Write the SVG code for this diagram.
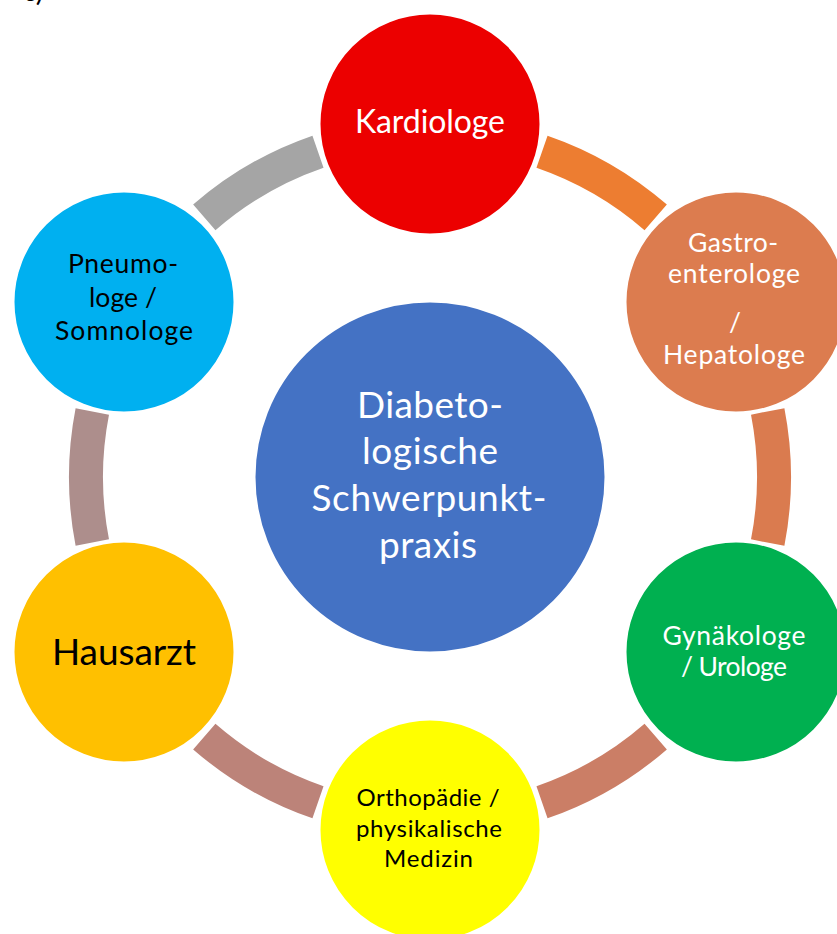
<svg xmlns="http://www.w3.org/2000/svg" width="837" height="934" viewBox="0 0 837 934">
<style>
.band{fill:none;stroke-width:34;stroke-linecap:butt}
.node{stroke:#FFFFFF;stroke-width:3}
text{font-family:Lato,"Open Sans","Liberation Sans",sans-serif;text-anchor:middle}
.w{fill:#FFFFFF}
.b{fill:#000000}
</style>
<rect width="837" height="934" fill="#FFFFFF"/>
<text x="33" y="1" style="font-size:28px" class="b">c)</text>
<g id="connectors">
<path class="band" stroke="#ED7D31" d="M542,151.7 A344,344 0 0 1 655.7,217.4"/>
<path class="band" stroke="#DA7B4F" d="M767.7,411.4 A344,344 0 0 1 767.7,542.6"/>
<path class="band" stroke="#CB7E66" d="M655.7,736.6 A344,344 0 0 1 542,802.3"/>
<path class="band" stroke="#BC8379" d="M318,802.3 A344,344 0 0 1 204.3,736.6"/>
<path class="band" stroke="#AD8E8C" d="M92.3,542.6 A344,344 0 0 1 92.3,411.4"/>
<path class="band" stroke="#A5A5A5" d="M204.3,217.4 A344,344 0 0 1 318,151.7"/>
</g>
<g id="center">
<circle class="node" cx="430" cy="477" r="176" fill="#4472C4"/>
<text class="w" style="font-size:37px" x="430" y="418" textLength="146">Diabeto-</text>
<text class="w" style="font-size:37px" x="430" y="464" textLength="136">logische</text>
<text class="w" style="font-size:37px" x="429" y="511" textLength="235">Schwerpunkt-</text>
<text class="w" style="font-size:37px" x="428" y="558" textLength="98">praxis</text>
</g>
<g id="kardiologe">
<circle class="node" cx="430" cy="124" r="111" fill="#EC0000"/>
<text class="w" style="font-size:32px" x="430" y="133" textLength="150">Kardiologe</text>
</g>
<g id="gastroenterologe">
<circle class="node" cx="736" cy="302" r="111" fill="#DC7C4F"/>
<text class="w" style="font-size:26.5px" x="733" y="252" textLength="90">Gastro-</text>
<text class="w" style="font-size:26.5px" x="734" y="283" textLength="132">enterologe</text>
<text class="w" style="font-size:26.5px" x="735" y="332">/</text>
<text class="w" style="font-size:26.5px" x="734" y="364" textLength="142">Hepatologe</text>
</g>
<g id="gynaekologe">
<circle class="node" cx="736" cy="652" r="111" fill="#00B050"/>
<text class="w" style="font-size:26.5px" x="734" y="645" textLength="143">Gynäkologe</text>
<text class="w" style="font-size:26.5px" x="734" y="676" textLength="106">/ Urologe</text>
</g>
<g id="orthopaedie">
<circle class="node" cx="430" cy="830" r="111" fill="#FFFF00"/>
<text class="b" style="font-size:24px" x="428" y="806" textLength="143">Orthopädie /</text>
<text class="b" style="font-size:24px" x="429" y="837" textLength="146">physikalische</text>
<text class="b" style="font-size:24px" x="428.5" y="867" textLength="89">Medizin</text>
</g>
<g id="hausarzt">
<circle class="node" cx="124" cy="652" r="111" fill="#FFC000"/>
<text class="b" style="font-size:37px" x="124" y="665" textLength="144">Hausarzt</text>
</g>
<g id="pneumologe">
<circle class="node" cx="124" cy="302" r="111" fill="#00B0F0"/>
<text class="b" style="font-size:26.5px" x="123" y="273" textLength="110">Pneumo-</text>
<text class="b" style="font-size:26.5px" x="123" y="307" textLength="68">loge /</text>
<text class="b" style="font-size:26.5px" x="124" y="340" textLength="138">Somnologe</text>
</g>
</svg>
